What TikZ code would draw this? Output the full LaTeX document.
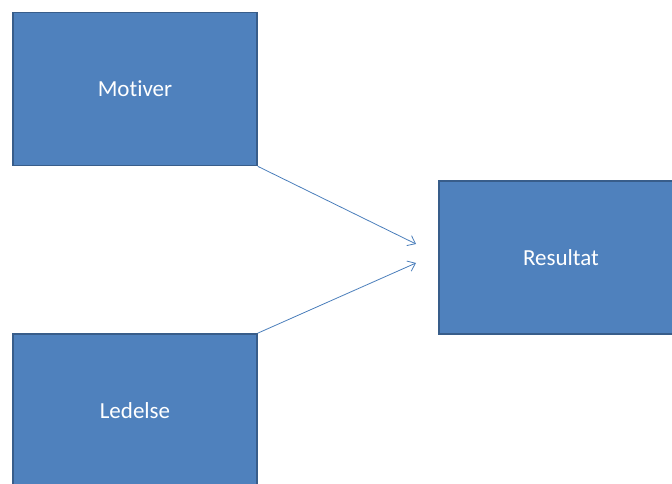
\documentclass[tikz,border=0pt]{standalone}
\usepackage{fontspec}
\setmainfont{Carlito}[Ligatures=NoCommon]
\usetikzlibrary{arrows.meta}
\definecolor{boxfill}{HTML}{4F81BD}
\definecolor{boxline}{HTML}{385D8A}
\definecolor{arrowline}{HTML}{4A7EBB}
\begin{document}
\begin{tikzpicture}[x=1pt,y=-1pt,>={Straight Barb[length=7pt,width=11pt]},
  box/.style={rectangle,draw=boxline,fill=boxfill,line width=1.8pt,minimum width=244pt,minimum height=153pt,inner sep=0pt,text=white,font=\fontsize{23}{27}\selectfont}]
\useasboundingbox (0,0) rectangle (672,484);
\clip (0,0) rectangle (672,484);
\node [box] (motiver) at (135,89) {Motiver};
\node [box] (ledelse) at (135,410.5) {Ledelse};
\node [box] (resultat) at (561,257.5) {Resultat};
\coordinate (in1) at (416,244);
\coordinate (in2) at (416,263);

\draw [->,arrowline,line width=0.8pt] (motiver.south east) -- (in1);
\draw [->,arrowline,line width=0.8pt] (ledelse.north east) -- (in2);
\end{tikzpicture}
\end{document}
